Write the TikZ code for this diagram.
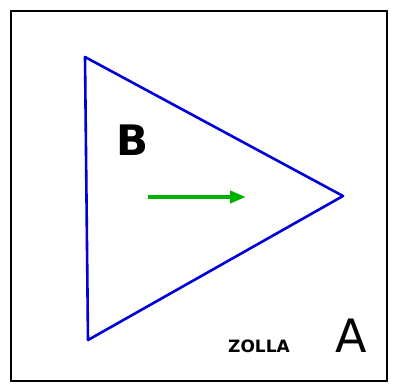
\documentclass[tikz,border=0pt]{standalone}
\usepackage{fontspec}
\setsansfont{DejaVu Sans}
\usetikzlibrary{arrows.meta}
\begin{document}
\begin{tikzpicture}[x=1pt,y=-1pt,
  frame/.style={draw=black,line width=2.6pt},
  tri/.style={draw=blue!85!black,line width=2.6pt,line join=round},
  mover/.style={draw=green!70!black,line width=4pt,-{Triangle[length=16pt,width=12pt]}},
  lbl/.style={text=black,inner sep=0pt}]
\useasboundingbox (0,0) rectangle (396,388);
\coordinate (f1) at (11,11);
\coordinate (f2) at (387,381);
\draw[frame] (f1) rectangle (f2);
\coordinate (t1) at (85,57);
\coordinate (t2) at (343,196);
\coordinate (t3) at (88,340);
\draw[tri] (t1) -- (t2) -- (t3) -- cycle;
\node[lbl,font=\sffamily\bfseries\fontsize{42}{42}\selectfont] (B) at (133,140) {B};
\coordinate (a1) at (148,197);
\coordinate (a2) at (246,197);
\draw[mover] (a1) -- (a2);
\node[lbl,font=\sffamily\bfseries\fontsize{17}{17}\selectfont] (zolla) at (259,346) {ZOLLA};
\node[lbl,font=\sffamily\fontsize{46}{46}\selectfont] (A) at (351,336) {A};
\end{tikzpicture}
\end{document}
